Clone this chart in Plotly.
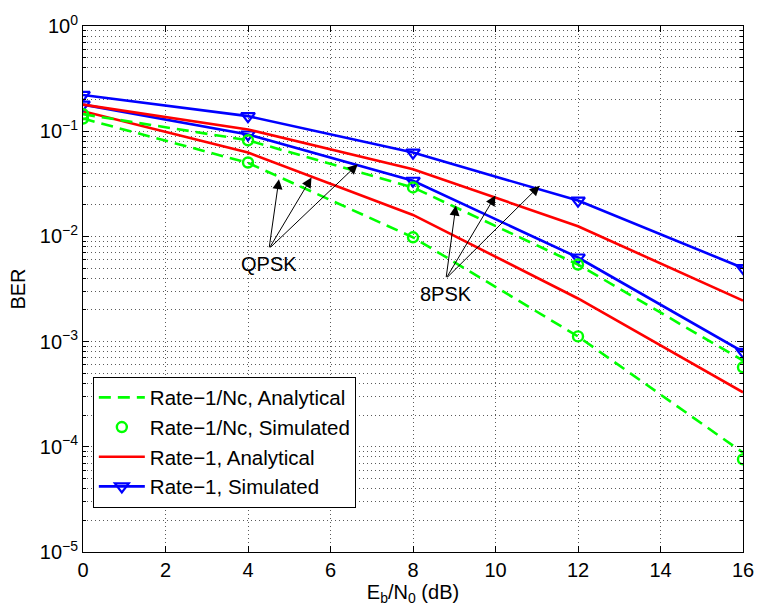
import math
import plotly.graph_objects as go

# Eb/N0 grid (dB)
ebn0 = [0, 4, 8, 12, 16]

# QPSK
qpsk_nc_analytical = [0.132, 0.0500, 0.0098, 0.00112, 8.8e-5]
qpsk_nc_simulated = [0.132, 0.0504, 0.0098, 0.00112, 7.6e-5]
qpsk_r1_analytical = [0.155, 0.0626, 0.0160, 0.00257, 0.00033]
qpsk_r1_simulated = [0.179, 0.0930, 0.0338, 0.00630, 0.00080]

# 8PSK
psk8_nc_analytical = [0.145, 0.0820, 0.0292, 0.00540, 0.00066]
psk8_nc_simulated = [0.145, 0.0820, 0.0292, 0.00540, 0.00057]
psk8_r1_analytical = [0.179, 0.1040, 0.0435, 0.01250, 0.00245]
psk8_r1_simulated = [0.221, 0.1390, 0.0626, 0.02190, 0.00501]

legend_names = ["Rate\u22121/Nc, Analytical", "Rate\u22121/Nc, Simulated",
                "Rate\u22121, Analytical", "Rate\u22121, Simulated"]

x_ticks = list(range(0, 17, 2))
y_decades = [-5, -4, -3, -2, -1, 0]

GREEN = "#00ff00"
RED = "#ff0000"
BLUE = "#0000ff"
FONT = "Liberation Sans, Arial, Helvetica, sans-serif"

fig = go.Figure()


def add_group(nc_ana, nc_sim, r1_ana, r1_sim, show):
    fig.add_trace(go.Scatter(
        x=ebn0, y=nc_ana, mode="lines", name=legend_names[0], showlegend=show,
        line=dict(color=GREEN, width=2.6, dash="12px,7px")))
    fig.add_trace(go.Scatter(
        x=ebn0, y=nc_sim, mode="markers", name=legend_names[1], showlegend=show,
        marker=dict(symbol="circle-open", color=GREEN, size=10,
                    line=dict(width=2.4, color=GREEN))))
    fig.add_trace(go.Scatter(
        x=ebn0, y=r1_ana, mode="lines", name=legend_names[2], showlegend=show,
        line=dict(color=RED, width=2.6)))
    fig.add_trace(go.Scatter(
        x=ebn0, y=r1_sim, mode="lines+markers", name=legend_names[3], showlegend=show,
        line=dict(color=BLUE, width=2.6),
        marker=dict(symbol="triangle-down-open", color=BLUE, size=12,
                    line=dict(width=2.2, color=BLUE))))


add_group(qpsk_nc_analytical, qpsk_nc_simulated, qpsk_r1_analytical, qpsk_r1_simulated, True)
add_group(psk8_nc_analytical, psk8_nc_simulated, psk8_r1_analytical, psk8_r1_simulated, False)

# Arrow annotations: labels and the (x, BER) points each arrow targets
labels = {
    "QPSK": dict(text_at=(4.50, 10 ** -2.267), tail=(4.51, 10 ** -2.117),
                 tips=[(4.75, 10 ** -1.456), (5.54, 10 ** -1.440), (6.66, 10 ** -1.314)]),
    "8PSK": dict(text_at=(8.79, 10 ** -2.543), tail=(8.80, 10 ** -2.401),
                 tips=[(9.04, 10 ** -1.707), (10.00, 10 ** -1.612), (11.07, 10 ** -1.518)]),
}

annotations = []
for label, spec in labels.items():
    tx, ty = spec["text_at"]
    annotations.append(dict(x=tx, y=math.log10(ty), xref="x", yref="y", text=label,
                            showarrow=False, font=dict(family=FONT, size=20, color="black")))
    ax, ay = spec["tail"]
    for px, py in spec["tips"]:
        annotations.append(dict(x=px, y=math.log10(py), xref="x", yref="y",
                                ax=ax, ay=math.log10(ay), axref="x", ayref="y",
                                text="", showarrow=True, arrowhead=2, arrowsize=2,
                                arrowwidth=1, arrowcolor="black", standoff=0))

grid_style = dict(showgrid=True, gridcolor="#5a5a5a", gridwidth=1, griddash="1px,3px")

y_minor = [m * 10 ** k for k in y_decades[:-1] for m in range(2, 10)]

fig.update_layout(
    width=766, height=611,
    margin=dict(l=82.7, r=12.7, t=22.7, b=59.3),
    paper_bgcolor="white", plot_bgcolor="white",
    font=dict(family=FONT, size=20, color="black"),
    showlegend=True,
    legend=dict(x=0.0149, y=0.0845, xanchor="left", yanchor="bottom",
                bgcolor="white", bordercolor="black", borderwidth=1,
                font=dict(family=FONT, size=20.5), itemwidth=46, tracegroupgap=0),
    annotations=annotations,
    xaxis=dict(range=[0, 16], tickvals=x_ticks, ticks="inside", ticklen=6,
               tickcolor="black", showline=True, linecolor="black", linewidth=1,
               mirror="ticks", zeroline=False,
               tickfont=dict(size=20),
               title=dict(text="E<sub>b</sub>/N<sub>0</sub> (dB)", standoff=2,
                          font=dict(size=20)),
               **grid_style),
    yaxis=dict(type="log", range=[-5, 0],
               tickvals=[10 ** k for k in y_decades],
               ticktext=["10<sup>%s</sup>" % (str(k).replace("-", "\u2212")) for k in y_decades],
               ticks="inside", ticklen=6, tickcolor="black",
               showline=True, linecolor="black", linewidth=1, mirror="ticks",
               zeroline=False, tickfont=dict(size=20),
               title=dict(text="BER", standoff=8, font=dict(size=20)),
               minor=dict(tickvals=y_minor, ticks="inside", ticklen=3,
                          tickcolor="black", **grid_style),
               **grid_style),
)

fig.write_html("out.html")
